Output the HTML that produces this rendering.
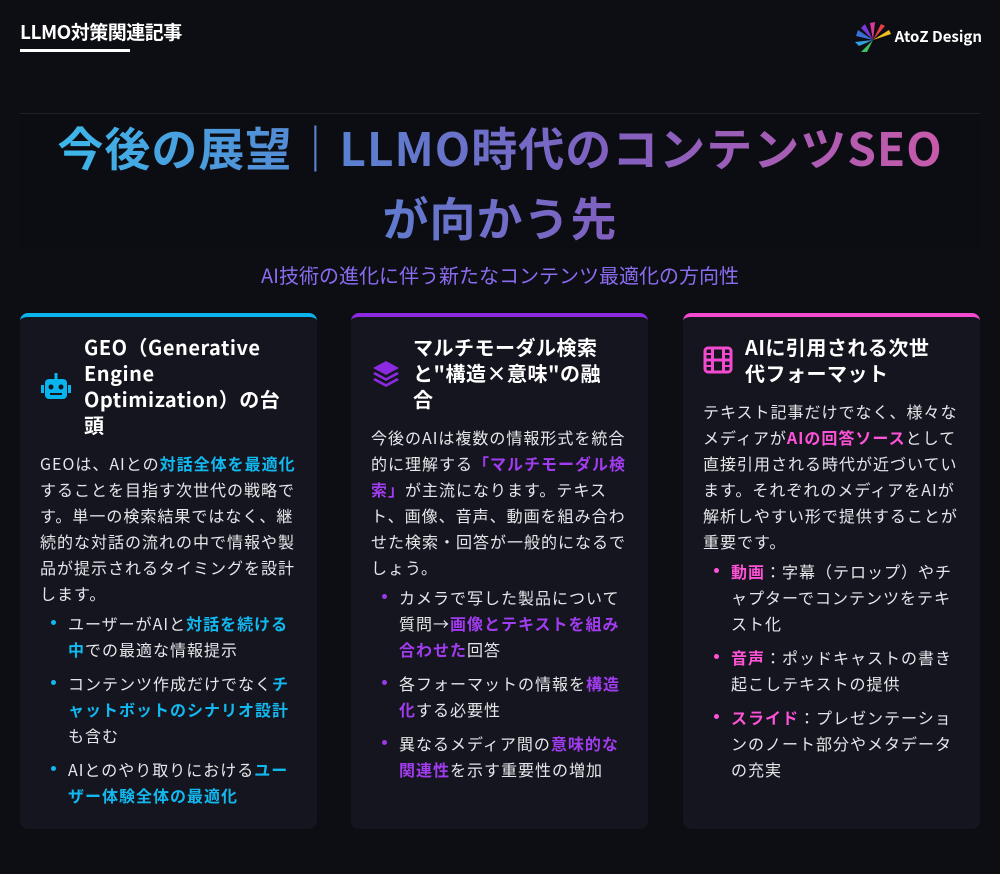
<!DOCTYPE html>
<html><head><meta charset="utf-8"><style>
*{margin:0;padding:0;box-sizing:border-box}
body{width:1000px;height:874px;background:#0d0e14;color:#e6e6ea;font-family:"Noto Sans CJK JP","Liberation Sans",sans-serif;position:relative;overflow:hidden}
.top{position:absolute;left:20px;top:18px;font-size:19px;font-weight:bold;color:#fff;letter-spacing:-0.5px}
.uline{position:absolute;left:20px;top:49px;width:110px;height:3px;background:#fff}
.logo{position:absolute;right:18px;top:22px;font-size:15px;font-weight:bold;color:#fff}
.hero{position:absolute;left:20px;top:113px;width:960px;height:135px;border-top:1px solid #1e2129;background:#0c0d12}
.title{position:absolute;left:0;top:112px;width:1000px;text-align:center;font-size:46px;font-weight:bold;line-height:70px;letter-spacing:1px}
.title span{display:inline-block;background:linear-gradient(90deg,#3cb8ea 0%,#5a80d0 33%,#8060c0 62%,#c85aaa 100%);-webkit-background-clip:text;background-clip:text;color:transparent}
.sub{position:absolute;left:0;top:260px;width:1000px;text-align:center;font-size:20px;color:#8b6cf0}
.card{position:absolute;top:313px;width:297px;height:516px;background:#14151e;border-radius:8px;padding:17px 20px;border-top:4px solid}
.c1{left:20px;border-color:#0ab4ec}.c2{left:351px;border-color:#8b2ae0}.c3{left:683px;border-color:#f34ad0}
.hd{display:flex;align-items:center;margin-bottom:12px}
.hd svg{flex:none;margin-right:12px}
.hd h3{font-size:20px;line-height:26px;color:#fff;font-weight:bold;width:200px;letter-spacing:0.5px}
p{font-size:16px;line-height:26px;letter-spacing:1px}
ul{list-style:none;margin-top:4px}
li{position:relative;padding-left:28px;font-size:16px;line-height:26px;margin-bottom:8px;letter-spacing:1px}
li:before{content:"";position:absolute;left:11px;top:10px;width:5px;height:5px;border-radius:50%}
.c1 b{color:#12b8f0}.c1 li:before{background:#12b8f0}
.c2 b{color:#a23cf0}.c2 li:before{background:#9a3ae8}
.c3 b{color:#ff52d6}.c3 li:before{background:#ff52d6}
</style></head><body>
<div class="top">LLMO対策関連記事</div><div class="uline"></div>
<div class="logo"><svg width="40" height="32" viewBox="0 0 40 32" style="vertical-align:middle;margin-right:2px"><path d="M20 18L5 8L3 14Z" fill="#3a6fd8"/><path d="M20 18L12 2L8 6Z" fill="#7a3ad8"/><path d="M20 18L22 0L17 1Z" fill="#d83a9a"/><path d="M20 18L32 4L28 2Z" fill="#e84040"/><path d="M20 18L38 12L36 8Z" fill="#f0c020"/><path d="M20 18L8 30L14 30Z" fill="#40c060"/><path d="M20 18L2 20L6 24Z" fill="#30a0e0"/></svg>AtoZ Design</div>
<div class="hero"></div>
<div class="title"><span>今後の展望｜LLMO時代のコンテンツSEO<br>が向かう先</span></div>
<div class="sub">AI技術の進化に伴う新たなコンテンツ最適化の方向性</div>

<div class="card c1">
<div class="hd"><svg width="32" height="30" viewBox="0 0 32 30"><rect x="14.5" y="2" width="3" height="6" fill="#0ab4ec"/><rect x="5" y="8" width="22" height="20" rx="4" fill="#0ab4ec"/><rect x="1" y="14" width="3" height="8" fill="#0ab4ec"/><rect x="28" y="14" width="3" height="8" fill="#0ab4ec"/><circle cx="11" cy="16" r="2.5" fill="#14151e"/><circle cx="21" cy="16" r="2.5" fill="#14151e"/><rect x="10" y="22" width="12" height="2" fill="#14151e"/></svg><h3>GEO（Generative Engine Optimization）の台頭</h3></div>
<p>GEOは、AIとの<b>対話全体を最適化</b>することを目指す次世代の戦略です。単一の検索結果ではなく、継続的な対話の流れの中で情報や製品が提示されるタイミングを設計します。</p>
<ul><li>ユーザーがAIと<b>対話を続ける中</b>での最適な情報提示</li><li>コンテンツ作成だけでなく<b>チャットボットのシナリオ設計</b>も含む</li><li>AIとのやり取りにおける<b>ユーザー体験全体の最適化</b></li></ul>
</div>

<div class="card c2">
<div class="hd"><svg width="30" height="30" viewBox="0 0 30 30"><path d="M15 3L28 10L15 17L2 10Z" fill="#8b2ae0"/><path d="M4 14L15 20L26 14L28 16L15 23L2 16Z" fill="#8b2ae0"/><path d="M4 20L15 26L26 20L28 22L15 29L2 22Z" fill="#8b2ae0"/></svg><h3>マルチモーダル検索と"構造×意味"の融合</h3></div>
<p>今後のAIは複数の情報形式を統合的に理解する<b>「マルチモーダル検索」</b>が主流になります。テキスト、画像、音声、動画を組み合わせた検索・回答が一般的になるでしょう。</p>
<ul><li>カメラで写した製品について質問→<b>画像とテキストを組み合わせた</b>回答</li><li>各フォーマットの情報を<b>構造化</b>する必要性</li><li>異なるメディア間の<b>意味的な関連性</b>を示す重要性の増加</li></ul>
</div>

<div class="card c3">
<div class="hd"><svg width="30" height="28" viewBox="0 0 30 28"><rect x="2" y="2" width="26" height="24" rx="3" fill="none" stroke="#f34ad0" stroke-width="3"/><rect x="8" y="2" width="3" height="24" fill="#f34ad0"/><rect x="19" y="2" width="3" height="24" fill="#f34ad0"/><rect x="2" y="12.5" width="26" height="3" fill="#f34ad0"/><rect x="2" y="7" width="6" height="2" fill="#f34ad0"/><rect x="22" y="7" width="6" height="2" fill="#f34ad0"/><rect x="2" y="19" width="6" height="2" fill="#f34ad0"/><rect x="22" y="19" width="6" height="2" fill="#f34ad0"/></svg><h3>AIに引用される次世代フォーマット</h3></div>
<p>テキスト記事だけでなく、様々なメディアが<b>AIの回答ソース</b>として直接引用される時代が近づいています。それぞれのメディアをAIが解析しやすい形で提供することが重要です。</p>
<ul><li><b>動画</b>：字幕（テロップ）やチャプターでコンテンツをテキスト化</li><li><b>音声</b>：ポッドキャストの書き起こしテキストの提供</li><li><b>スライド</b>：プレゼンテーションのノート部分やメタデータの充実</li></ul>
</div>
</body></html>
